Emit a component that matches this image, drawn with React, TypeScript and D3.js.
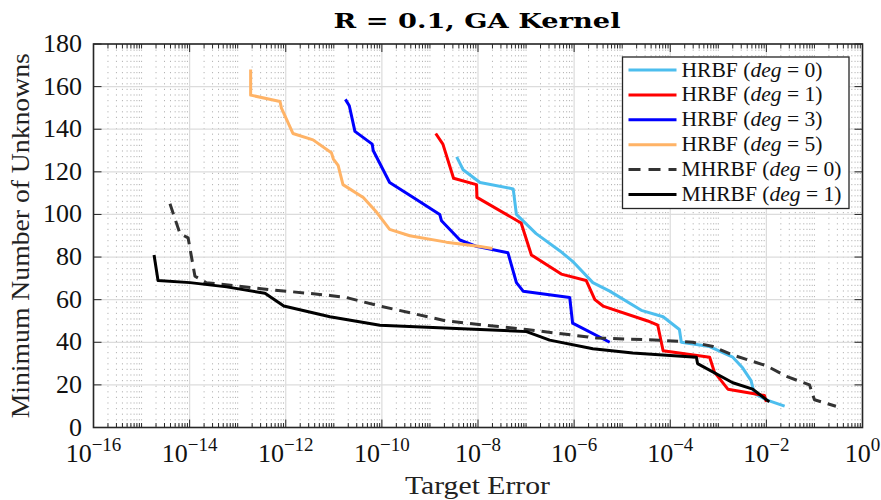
import React from "react";
import * as d3 from "d3";

// target error (x) and minimum number of unknowns (y)
const hrbf0Err = [3.6e-9, 4.9e-9, 1.1e-8, 5.4e-8, 6.3e-8, 1.62e-7, 5.0e-7, 9.3e-7, 2.45e-6, 5.5e-6, 2.5e-5, 7.1e-5, 1.55e-4, 1.7e-4, 6.6e-4, 2.0e-3, 3.2e-3, 4.8e-3, 5.6e-3, 1.0e-2, 2.4e-2];
const hrbf0N = [127, 121, 115, 112, 100, 91, 83, 78, 68, 64, 55, 52, 46, 40, 38, 33, 28, 22, 16, 13, 10];

const hrbf1Err = [1.32e-9, 1.86e-9, 3.1e-9, 9.3e-9, 9.5e-9, 7.9e-8, 1.29e-7, 5.4e-7, 1.78e-6, 2.7e-6, 4.0e-6, 3.4e-5, 5.5e-5, 7.1e-5, 6.6e-4, 8.3e-4, 1.58e-3, 5.2e-3, 9.1e-3, 1.0e-2];
const hrbf1N = [138, 133, 117, 114, 108, 96, 81, 72, 69, 60, 57, 50, 48, 36, 33, 26, 18, 16, 15, 12];

const hrbf3Err = [1.74e-11, 2.1e-11, 2.75e-11, 6.3e-11, 6.6e-11, 1.45e-10, 4.5e-10, 1.6e-9, 1.74e-9, 4.2e-9, 9.3e-9, 4.2e-8, 6.3e-8, 8.7e-8, 8.1e-7, 9.3e-7, 5.5e-6];
const hrbf3N = [154, 151, 139, 133, 130, 115, 108, 100, 97, 88, 85, 82, 68, 64, 61, 49, 40];

const hrbf5Err = [1.86e-13, 1.86e-13, 7.6e-13, 8.1e-13, 1.41e-12, 3.7e-12, 8.9e-12, 9.8e-12, 1.23e-11, 1.55e-11, 4.1e-11, 7.8e-11, 1.45e-10, 3.8e-10, 2.2e-9, 1.1e-8, 2.0e-8];
const hrbf5N = [168, 156, 153, 150, 138, 135, 129, 126, 123, 114, 108, 101, 93, 90, 87, 85, 84];

const mhrbf0Err = [3.9e-15, 6.3e-15, 9.3e-15, 1.29e-14, 2.2e-14, 3.4e-13, 8.3e-12, 1.82e-11, 9.1e-11, 2.2e-9, 1.02e-7, 2.9e-6, 6.0e-5, 2.95e-4, 7.8e-4, 2.0e-3, 1.0e-2, 2.6e-2, 7.9e-2, 1.0e-1, 2.8e-1];
const mhrbf0N = [105, 91, 89, 71, 68, 65, 62, 61, 57, 50, 46, 42, 41, 40, 38, 34, 29, 24, 20, 13, 10];

const mhrbf1Err = [1.82e-15, 2.2e-15, 1.02e-14, 5.9e-14, 3.7e-13, 9.1e-13, 8.3e-12, 9.1e-11, 1.1e-8, 1.02e-7, 3.1e-7, 2.45e-6, 1.66e-5, 3.5e-4, 3.7e-4, 2.0e-3, 5.2e-3, 1.15e-2];
const mhrbf1N = [81, 69, 68, 66, 63, 57, 52, 48, 46, 45, 41, 37, 35, 33, 30, 21, 18, 12];

const xTickExps = [-16, -14, -12, -10, -8, -6, -4, -2, 0];
const yTicks = [0, 20, 40, 60, 80, 100, 120, 140, 160, 180];

const series = [
  { name: "HRBF", deg: 0, err: hrbf0Err, n: hrbf0N, color: "#4DBEEE", dash: "" },
  { name: "HRBF", deg: 1, err: hrbf1Err, n: hrbf1N, color: "#FF0000", dash: "" },
  { name: "HRBF", deg: 3, err: hrbf3Err, n: hrbf3N, color: "#0000FF", dash: "" },
  { name: "HRBF", deg: 5, err: hrbf5Err, n: hrbf5N, color: "#FFB366", dash: "" },
  { name: "MHRBF", deg: 0, err: mhrbf0Err, n: mhrbf0N, color: "#333333", dash: "11,7" },
  { name: "MHRBF", deg: 1, err: mhrbf1Err, n: mhrbf1N, color: "#000000", dash: "" },
];

const W = 881;
const H = 500;
const left = 93.5;
const right = 862.5;
const top = 44;
const bottom = 427.5;
const font = "'Liberation Serif', 'Times New Roman', serif";
const axisColor = "#262626";

export default function App() {
  const x = d3.scaleLog().domain([1e-16, 1]).range([left, right]);
  const y = d3.scaleLinear().domain([0, 180]).range([bottom, top]);

  const minorTicks: number[] = [];
  for (let k = -16; k < 0; k++) {
    for (let m = 1; m <= 9; m++) {
      if (m === 1 && k % 2 === 0) continue;
      minorTicks.push(m * Math.pow(10, k));
    }
  }

  const line = d3
    .line<[number, number]>()
    .x((d) => x(d[0]))
    .y((d) => y(d[1]));

  const legX = 622.5;
  const legY = 57;
  const legW = 226.5;
  const legH = 151.5;
  const rowH = 24.9;

  return (
    <svg
      width={W}
      height={H}
      style={{ position: "absolute", left: 0, top: 0, background: "#fff" }}
      fontFamily={font}
    >
      <rect x={0} y={0} width={W} height={H} fill="#fff" />
      {/* minor grid */}
      {minorTicks.map((v, i) => (
        <line
          key={"mg" + i}
          x1={x(v)}
          x2={x(v)}
          y1={top}
          y2={bottom}
          stroke="#b4b4b4"
          strokeWidth={1}
          strokeDasharray="1.2,4.4"
        />
      ))}
      {/* major grid */}
      {xTickExps.map((e) => (
        <line key={"gx" + e} x1={x(Math.pow(10, e))} x2={x(Math.pow(10, e))} y1={top} y2={bottom} stroke="#dcdcdc" strokeWidth={1.2} />
      ))}
      {yTicks.map((t) => (
        <line key={"gy" + t} x1={left} x2={right} y1={y(t)} y2={y(t)} stroke="#dcdcdc" strokeWidth={1.2} />
      ))}

      {/* series */}
      {series.map((s, i) => (
        <path
          key={"s" + i}
          d={line(s.err.map((e, j) => [e, s.n[j]] as [number, number])) ?? ""}
          fill="none"
          stroke={s.color}
          strokeWidth={3}
          strokeDasharray={s.dash || undefined}
          strokeLinejoin="round"
        />
      ))}

      {/* ticks */}
      {minorTicks.map((v, i) => (
        <g key={"mt" + i} stroke={axisColor} strokeWidth={1}>
          <line x1={x(v)} x2={x(v)} y1={bottom} y2={bottom - 4.5} />
          <line x1={x(v)} x2={x(v)} y1={top} y2={top + 4.5} />
        </g>
      ))}
      {xTickExps.map((e) => (
        <g key={"xt" + e} stroke={axisColor} strokeWidth={1}>
          <line x1={x(Math.pow(10, e))} x2={x(Math.pow(10, e))} y1={bottom} y2={bottom - 8} />
          <line x1={x(Math.pow(10, e))} x2={x(Math.pow(10, e))} y1={top} y2={top + 8} />
        </g>
      ))}
      {yTicks.map((t) => (
        <g key={"yt" + t} stroke={axisColor} strokeWidth={1}>
          <line x1={left} x2={left + 8} y1={y(t)} y2={y(t)} />
          <line x1={right} x2={right - 8} y1={y(t)} y2={y(t)} />
        </g>
      ))}

      {/* axes box */}
      <rect x={left} y={top} width={right - left} height={bottom - top} fill="none" stroke={axisColor} strokeWidth={1.6} />

      {/* tick labels */}
      {xTickExps.map((e) => (
        <text key={"xl" + e} x={x(Math.pow(10, e))} y={461.5} textAnchor="middle" fill="#111" fontSize={26}>
          <tspan>10</tspan>
          <tspan dy={-10.5} fontSize={19}>
            {e < 0 ? "\u2212" + Math.abs(e) : String(e)}
          </tspan>
        </text>
      ))}
      {yTicks.map((t) => (
        <text key={"yl" + t} x={82} y={y(t) + 8} textAnchor="end" fill="#111" fontSize={26}>
          {t}
        </text>
      ))}

      {/* labels */}
      <text
        x={477}
        y={27.5}
        textAnchor="middle"
        fontSize={20.5}
        fontWeight="bold"
        fill="#000"
        fontFamily="'DejaVu Serif', serif"
        textLength={287}
        lengthAdjust="spacingAndGlyphs"
      >
        R = 0.1, GA Kernel
      </text>
      <text x={477.5} y={493.5} textAnchor="middle" fontSize={26} fill="#222" textLength={145} lengthAdjust="spacingAndGlyphs">
        Target Error
      </text>
      <text
        transform={`translate(29,${(top + bottom) / 2}) rotate(-90)`}
        textAnchor="middle"
        fontSize={26}
        fill="#222"
        textLength={365}
        lengthAdjust="spacingAndGlyphs"
      >
        Minimum Number of Unknowns
      </text>

      {/* legend */}
      <rect x={legX} y={legY} width={legW} height={legH} fill="#fff" stroke={axisColor} strokeWidth={1.3} />
      {series.map((s, i) => {
        const cy = legY + 13 + i * rowH;
        return (
          <g key={"lg" + i}>
            <line x1={628.5} x2={676.5} y1={cy} y2={cy} stroke={s.color} strokeWidth={3} strokeDasharray={s.dash ? "12,8" : undefined} />
            <text
              x={681.5}
              y={cy + 6.5}
              fontSize={20}
              fill="#111"
              textLength={s.name === "HRBF" ? 141 : 160}
              lengthAdjust="spacingAndGlyphs"
            >
              {s.name} (<tspan fontStyle="italic">deg</tspan> = {s.deg})
            </text>
          </g>
        );
      })}
    </svg>
  );
}
